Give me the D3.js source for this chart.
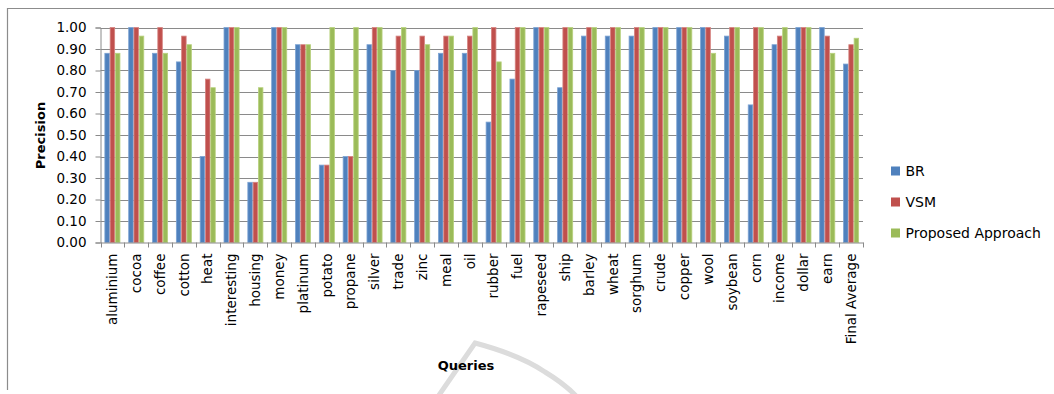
<!DOCTYPE html>
<html><head><meta charset="utf-8">
<script src="https://cdn.jsdelivr.net/npm/d3@7"></script>
<style>body{margin:0;background:#fff}svg{display:block}text{font-family:"DejaVu Sans",sans-serif}</style>
</head><body>
<svg id="c" width="1054" height="394"></svg>
<script>
const categories = ["aluminium","cocoa","coffee","cotton","heat","interesting","housing","money","platinum","potato","propane","silver","trade","zinc","meal","oil","rubber","fuel","rapeseed","ship","barley","wheat","sorghum","crude","copper","wool","soybean","corn","income","dollar","earn","Final Average"];
const seriesNames = ["BR","VSM","Proposed Approach"];
const BR       = [0.88,1.00,0.88,0.84,0.40,1.00,0.28,1.00,0.92,0.36,0.40,0.92,0.80,0.80,0.88,0.88,0.56,0.76,1.00,0.72,0.96,0.96,0.96,1.00,1.00,1.00,0.96,0.64,0.92,1.00,1.00,0.83];
const VSM      = [1.00,1.00,1.00,0.96,0.76,1.00,0.28,1.00,0.92,0.36,0.40,1.00,0.96,0.96,0.96,0.96,1.00,1.00,1.00,1.00,1.00,1.00,1.00,1.00,1.00,1.00,1.00,1.00,0.96,1.00,0.96,0.92];
const Proposed = [0.88,0.96,0.88,0.92,0.72,1.00,0.72,1.00,0.92,1.00,1.00,1.00,1.00,0.92,0.96,1.00,0.84,1.00,1.00,1.00,1.00,1.00,1.00,1.00,1.00,0.88,1.00,1.00,1.00,1.00,0.88,0.95];
const yTicks = [0,0.1,0.2,0.3,0.4,0.5,0.6,0.7,0.8,0.9,1.0];
const colors = ["#4F81BD","#C0504D","#9BBB59"];
const edge = ["#7DA3D3","#D58380","#B9D27F"];
const series = [BR, VSM, Proposed];

const svg = d3.select("#c");
const L = 100.5, R = 863, T = 27.5, B = 242.5;
const x = d3.scaleBand().domain(categories).range([L, R]).paddingInner(0).paddingOuter(0);
const sub = d3.scaleBand().domain(d3.range(3)).range([0, x.bandwidth()]).paddingInner(0).paddingOuter(0.75);
const y = d3.scaleLinear().domain([0,1]).range([B, T]);

// faint watermark arc
svg.append("path").attr("d","M437,398 L475,343 Q520,355 545,372 Q565,384 578,398")
  .attr("fill","none").attr("stroke","#dcdcdc").attr("stroke-width",5);

// chart border
svg.append("path").attr("d","M7.5,390 V8.5 H1054").attr("fill","none").attr("stroke","#8c8c8c").attr("stroke-width",1.2);

// gridlines
svg.append("g").selectAll("line").data(yTicks.slice(1)).join("line")
  .attr("x1", L).attr("x2", R).attr("y1", d=>Math.round(y(d))+0.5).attr("y2", d=>Math.round(y(d))+0.5)
  .attr("stroke","#8a8a8a").attr("stroke-width",1);

// bars
const g = svg.append("g");
series.forEach((vals, si) => {
  g.append("g").selectAll("rect").data(vals).join("rect")
    .attr("x", (d,i)=> x(categories[i]) + sub(si) + 0.4)
    .attr("y", d=> y(d))
    .attr("width", sub.bandwidth()-0.8)
    .attr("height", d=> B - y(d))
    .attr("fill", colors[si])
    .attr("stroke", edge[si]).attr("stroke-width",0.8);
});

// y axis
const ya = svg.append("g").attr("transform",`translate(${L},0)`)
  .call(d3.axisLeft(y).tickValues(yTicks).tickFormat(d3.format(".2f")).tickSize(5).tickPadding(9));
ya.select(".domain").attr("stroke","#8a8a8a");
ya.selectAll(".tick line").attr("stroke","#8a8a8a");
ya.selectAll("text").attr("font-size",13.5).attr("fill","#000").attr("font-family","DejaVu Sans");

// x axis
const xa = svg.append("g").attr("transform",`translate(0,${B})`)
  .call(d3.axisBottom(x).tickSize(0).tickFormat(d=>d));
xa.select(".domain").attr("stroke","#8a8a8a");
xa.selectAll(".tick text").attr("font-size",13.5).attr("fill","#000").attr("font-family","DejaVu Sans")
  .attr("transform","rotate(-90)").attr("text-anchor","end").attr("dy","0.35em").attr("x",-11).attr("y",0);
// category boundary ticks
svg.append("g").selectAll("line").data(categories.concat([null])).join("line")
  .attr("x1",(d,i)=> Math.round(L + i*x.step())+0.5).attr("x2",(d,i)=> Math.round(L + i*x.step())+0.5)
  .attr("y1", B).attr("y2", B+5).attr("stroke","#8a8a8a");

// axis titles
svg.append("text").attr("transform","translate(45,135.5) rotate(-90)").attr("text-anchor","middle")
  .attr("font-family","Lato").attr("font-size",13).attr("font-weight","bold").text("Precision");
svg.append("text").attr("x",466).attr("y",370).attr("text-anchor","middle")
  .attr("font-family","Lato").attr("font-size",13).attr("font-weight","bold").text("Queries");

// legend
const lg = svg.append("g").selectAll("g").data(seriesNames).join("g")
  .attr("transform",(d,i)=>`translate(891,${171 + i*31})`);
lg.append("rect").attr("x",0).attr("y",-4.5).attr("width",9).attr("height",9).attr("fill",(d,i)=>colors[i]);
lg.append("text").attr("x",14.5).attr("y",0).attr("dy","0.36em").attr("font-size",14).text(d=>d);
</script>
</body></html>
